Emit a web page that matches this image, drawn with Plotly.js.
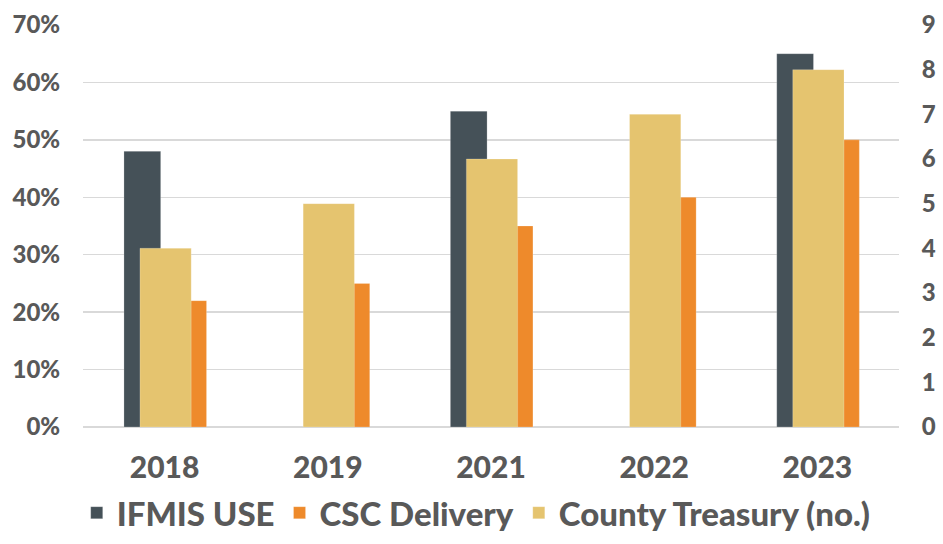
<!DOCTYPE html>
<html>
<head>
<meta charset="utf-8">
<script src="https://cdn.plot.ly/plotly-3.0.1.min.js"></script>
<style>html,body{margin:0;padding:0;background:#fff;}#chart{width:943px;height:544px;}</style>
</head>
<body>
<div id="chart"></div>
<script>
const years = ["2018", "2019", "2021", "2022", "2023"];
const ifmisUse = [0.48, null, 0.55, null, 0.65];
const cscDelivery = [0.22, 0.25, 0.35, 0.40, 0.50];
const countyTreasury = [4, 5, 6, 7, 8];
const seriesNames = ["IFMIS USE", "CSC Delivery", "County Treasury (no.)"];

const textColor = "#595959";
const fontFam = "Lato, 'Open Sans', sans-serif";

const traces = [
  {
    type: "bar", name: seriesNames[0], x: years, y: ifmisUse, yaxis: "y",
    offset: -0.249, width: 0.225,
    marker: {color: "#455158", line: {color: "rgba(255,255,255,0.35)", width: 0.6}},
    hoverinfo: "x+y"
  },
  {
    type: "bar", name: seriesNames[1], x: years, y: cscDelivery, yaxis: "y",
    offset: 0.032, width: 0.225,
    marker: {color: "#ee8a2b", line: {color: "rgba(255,255,255,0.35)", width: 0.6}},
    hoverinfo: "x+y"
  },
  {
    type: "bar", name: seriesNames[2], x: years, y: countyTreasury, yaxis: "y2",
    offset: -0.151, width: 0.314,
    marker: {color: "#e5c46f", line: {color: "rgba(255,255,255,0.35)", width: 0.6}},
    hoverinfo: "x+y"
  }
];

const layout = {
  width: 943, height: 544,
  margin: {l: 83, r: 44, t: 25, b: 117, autoexpand: false},
  paper_bgcolor: "#ffffff", plot_bgcolor: "#ffffff",
  barmode: "overlay",
  font: {family: fontFam, color: textColor},
  showlegend: true,
  legend: {
    orientation: "h", xref: "container", yref: "container",
    x: 0.505, xanchor: "center", y: 0.006, yanchor: "bottom",
    font: {family: fontFam, size: 33, color: textColor, weight: 900},
    traceorder: "normal", itemwidth: 30,
    bgcolor: "rgba(0,0,0,0)"
  },
  xaxis: {
    type: "category", categoryorder: "array", categoryarray: years,
    showgrid: false, showline: false, zeroline: false, automargin: false,
    ticks: "outside", ticklen: 14, tickcolor: "rgba(0,0,0,0)",
    tickfont: {family: fontFam, size: 30, color: textColor, weight: 900},
    fixedrange: true
  },
  yaxis: {
    range: [0, 0.7], dtick: 0.1, tick0: 0, tickformat: ".0%",
    showgrid: true, gridcolor: "#d9d9d9", gridwidth: 1.3,
    zeroline: true, zerolinecolor: "#d9d9d9", zerolinewidth: 1.3,
    showline: false, automargin: false,
    ticks: "outside", ticklen: 17, tickcolor: "rgba(0,0,0,0)",
    tickfont: {family: fontFam, size: 24, color: textColor, weight: 900},
    fixedrange: true
  },
  yaxis2: {
    overlaying: "y", side: "right",
    range: [0, 9], dtick: 1, tick0: 0, automargin: false,
    showgrid: false, zeroline: false, showline: false,
    ticks: "outside", ticklen: 17, tickcolor: "rgba(0,0,0,0)",
    tickfont: {family: fontFam, size: 24, color: textColor, weight: 900},
    fixedrange: true
  }
};

Plotly.newPlot("chart", traces, layout, {displayModeBar: false, staticPlot: true});
</script>
</body>
</html>
